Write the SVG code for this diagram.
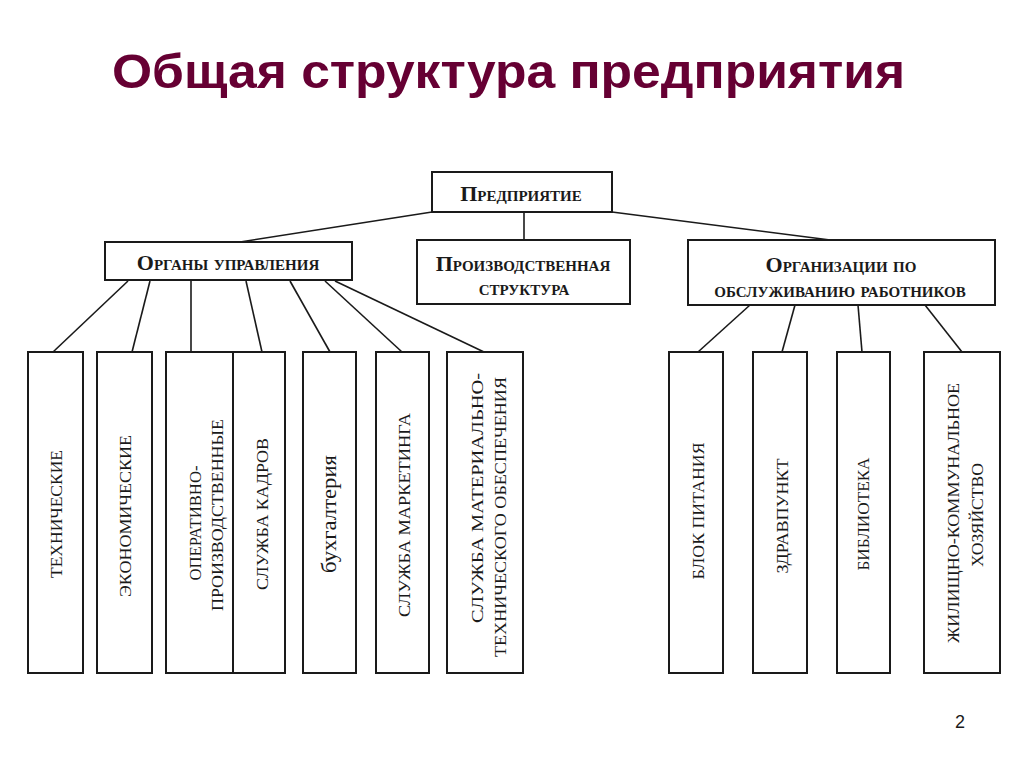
<svg xmlns="http://www.w3.org/2000/svg" width="1024" height="767" viewBox="0 0 1024 767">
<style>
.box{fill:#fff;stroke:#1a1a1a;stroke-width:2}
.hd{font-family:"Liberation Serif",serif;font-weight:bold;font-variant:small-caps;font-size:22px;fill:#1a1a1a;text-anchor:middle}
.vt{font-family:"Liberation Serif",serif;font-size:17.5px;fill:#1a1a1a;text-anchor:middle}
.lc{font-family:"Liberation Serif",serif;font-size:22px;fill:#1a1a1a;text-anchor:middle}
#connectors line{stroke:#1a1a1a;stroke-width:1.6}
</style>
<rect width="1024" height="767" fill="#fff"/>
<text x="112" y="88" textLength="793" lengthAdjust="spacingAndGlyphs" font-family="Liberation Sans,Arial,sans-serif" font-weight="bold" font-size="49" fill="#660033">Общая структура предприятия</text>
<text x="960" y="728" font-family="Liberation Sans,Arial,sans-serif" font-size="18" fill="#1a1a1a" text-anchor="middle">2</text>

<g id="connectors">
<line x1="432" y1="212" x2="240" y2="242"/>
<line x1="524" y1="212" x2="524" y2="240"/>
<line x1="612" y1="212" x2="838" y2="241"/>
<line x1="128" y1="281" x2="53" y2="352"/>
<line x1="150" y1="281" x2="132" y2="352"/>
<line x1="191" y1="281" x2="191" y2="352"/>
<line x1="246" y1="281" x2="262" y2="352"/>
<line x1="290" y1="281" x2="330" y2="352"/>
<line x1="325" y1="281" x2="402" y2="352"/>
<line x1="335" y1="281" x2="484" y2="352"/>
<line x1="750" y1="305" x2="698" y2="352"/>
<line x1="795" y1="305" x2="782" y2="352"/>
<line x1="858" y1="305" x2="862" y2="352"/>
<line x1="925" y1="305" x2="962" y2="352"/>
</g>

<g id="n-enterprise"><rect class="box" x="432" y="172" width="180" height="40"/><text class="hd" x="521" y="201">Предприятие</text></g>
<g id="n-organs"><rect class="box" x="105" y="242" width="247" height="38"/><text class="hd" x="228" y="270">Органы управления</text></g>
<g id="n-production"><rect class="box" x="417" y="240" width="213" height="64"/><text class="hd" x="523" y="271">Производственная</text><text class="hd" x="524" y="295">структура</text></g>
<g id="n-service"><rect class="box" x="688" y="240" width="307" height="65"/><text class="hd" x="841" y="272">Организации по</text><text class="hd" x="840" y="297">обслуживанию работников</text></g>

<g id="n-tech"><rect class="box" x="28" y="352" width="55" height="321"/><text class="vt" transform="translate(55.5,514) rotate(-90)" y="6" textLength="128" lengthAdjust="spacingAndGlyphs">ТЕХНИЧЕСКИЕ</text></g>
<g id="n-econ"><rect class="box" x="97" y="352" width="55" height="321"/><text class="vt" transform="translate(124.5,516) rotate(-90)" y="6" textLength="162" lengthAdjust="spacingAndGlyphs">ЭКОНОМИЧЕСКИЕ</text></g>
<g id="n-oper"><rect class="box" x="166" y="352" width="67" height="321"/><text class="vt" transform="translate(195,523) rotate(-90)" y="6" textLength="115" lengthAdjust="spacingAndGlyphs">ОПЕРАТИВНО-</text><text class="vt" transform="translate(217,515) rotate(-90)" y="6" textLength="192" lengthAdjust="spacingAndGlyphs">ПРОИЗВОДСТВЕННЫЕ</text></g>
<g id="n-kadry"><rect class="box" x="233" y="352" width="52" height="321"/><text class="vt" transform="translate(262,514) rotate(-90)" y="6" textLength="152" lengthAdjust="spacingAndGlyphs">СЛУЖБА КАДРОВ</text></g>
<g id="n-buh"><rect class="box" x="303" y="352" width="53" height="321"/><text class="lc" transform="translate(330,514) rotate(-90)" y="6" textLength="118" lengthAdjust="spacingAndGlyphs">бухгалтерия</text></g>
<g id="n-market"><rect class="box" x="376" y="352" width="53" height="321"/><text class="vt" transform="translate(404,515) rotate(-90)" y="6" textLength="204" lengthAdjust="spacingAndGlyphs">СЛУЖБА МАРКЕТИНГА</text></g>
<g id="n-mto"><rect class="box" x="447" y="352" width="76" height="321"/><text class="vt" transform="translate(477,498) rotate(-90)" y="6" textLength="250" lengthAdjust="spacingAndGlyphs">СЛУЖБА МАТЕРИАЛЬНО-</text><text class="vt" transform="translate(500,517) rotate(-90)" y="6" textLength="280" lengthAdjust="spacingAndGlyphs">ТЕХНИЧЕСКОГО  ОБЕСПЕЧЕНИЯ</text></g>

<g id="n-food"><rect class="box" x="669" y="352" width="54" height="321"/><text class="vt" transform="translate(698,511) rotate(-90)" y="6" textLength="137" lengthAdjust="spacingAndGlyphs">БЛОК ПИТАНИЯ</text></g>
<g id="n-health"><rect class="box" x="753" y="352" width="54" height="321"/><text class="vt" transform="translate(782,516) rotate(-90)" y="6" textLength="115" lengthAdjust="spacingAndGlyphs">ЗДРАВПУНКТ</text></g>
<g id="n-lib"><rect class="box" x="837" y="352" width="53" height="321"/><text class="vt" transform="translate(863,514) rotate(-90)" y="6" textLength="113" lengthAdjust="spacingAndGlyphs">БИБЛИОТЕКА</text></g>
<g id="n-zhkh"><rect class="box" x="924" y="352" width="76" height="321"/><text class="vt" transform="translate(953,513) rotate(-90)" y="6" textLength="260" lengthAdjust="spacingAndGlyphs">ЖИЛИЩНО-КОММУНАЛЬНОЕ</text><text class="vt" transform="translate(977,515) rotate(-90)" y="6" textLength="104" lengthAdjust="spacingAndGlyphs">ХОЗЯЙСТВО</text></g>
</svg>
